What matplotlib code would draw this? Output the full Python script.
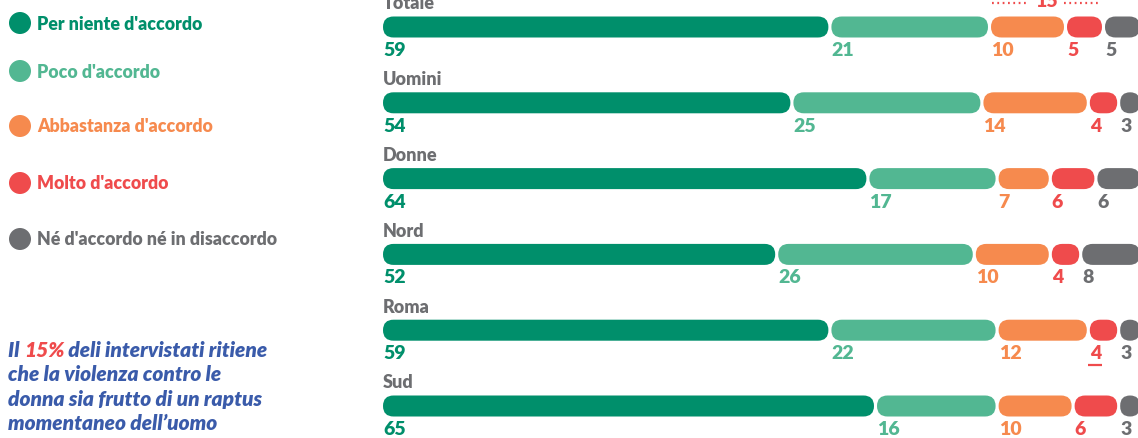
import matplotlib
matplotlib.use('Agg')
import matplotlib.pyplot as plt
from matplotlib.patches import FancyBboxPatch, Circle
import numpy as np

# ---------------- data ----------------
categories = ['Totale', 'Uomini', 'Donne', 'Nord', 'Roma', 'Sud']
series_names = ["Per niente d'accordo", "Poco d'accordo", "Abbastanza d'accordo",
                "Molto d'accordo", "Né d'accordo né in disaccordo"]
per_niente = [59, 54, 64, 52, 59, 65]
poco = [21, 25, 17, 26, 22, 16]
abbastanza = [10, 14, 7, 10, 12, 10]
molto = [5, 4, 6, 4, 4, 6]
ne_ne = [5, 3, 6, 8, 3, 3]
series = [per_niente, poco, abbastanza, molto, ne_ne]
colors = ['#008F6B', '#52B792', '#F68A4E', '#EF4B4C', '#6D6E71']
note_lines = ["Il ", "15%", " deli intervistati ritiene",
              "che la violenza contro le",
              "donna sia frutto di un raptus",
              "momentaneo dell\u2019uomo"]

# ---------------- layout ----------------
W, H = 1138, 439
FONT = 'Lato'
WEIGHT = 800
plt.rcParams['font.family'] = [FONT, 'DejaVu Sans']
fig = plt.figure(figsize=(W / 100, H / 100), dpi=100)

PX_UNIT = 7.6          # pixels per percentage point
ROW_PX = 75.8          # pixels between rows
TOP_PX = 28.0          # centre of first row in pixels
LEFT_PX = 383.0
BAR_PX = 21.0
GAP_PX = 3.0

n = len(categories)
ax = fig.add_axes([LEFT_PX / W, 0, (W - LEFT_PX) / W, 1])
ax.set_xlim(0, (W - LEFT_PX) / PX_UNIT)
ax.set_ylim((H - TOP_PX) / ROW_PX, -TOP_PX / ROW_PX)
ax.axis('off')

px_y = 1.0 / ROW_PX     # rows per pixel
px_x = 1.0 / PX_UNIT    # units per pixel
aspect = px_y / px_x
bar_h = BAR_PX * px_y
gap = GAP_PX * px_x
r_full = (BAR_PX / 2) * px_x

grey_txt = '#6D6E71'
for i, cat in enumerate(categories):
    ax.text(0, i - 18.5 * px_y, cat, ha='left', va='baseline', fontsize=13,
            fontweight=WEIGHT, color=grey_txt)
    left = 0.0
    for s, vals in enumerate(series):
        v = vals[i]
        w = v - gap
        r = min(r_full, w / 2)
        p = FancyBboxPatch((left, i - bar_h / 2), w, bar_h,
                           boxstyle=f"round,pad=0,rounding_size={r}",
                           mutation_aspect=aspect, fc=colors[s], ec='none',
                           clip_on=True)
        ax.add_patch(p)
        ax.text(left, i + 28 * px_y, str(v), ha='left', va='baseline',
                fontsize=14, fontweight=WEIGHT, color=colors[s])
        if cat == 'Roma' and s == 3:
            ax.plot([left - 0.2, left + 1.6], [i + 35 * px_y] * 2,
                    color=colors[s], lw=1.6, solid_capstyle='butt')
        left += v

# "15" annotation over Totale (abbastanza + molto)
tot_hi = abbastanza[0] + molto[0]
x0 = per_niente[0] + poco[0]
x1 = x0 + tot_hi - gap
xm = (x0 + x1) / 2
yl = -24 * px_y
ax.text(xm, -21 * px_y, str(tot_hi), ha='center', va='baseline', fontsize=14,
        fontweight=WEIGHT, color=colors[3])
ax.plot([x0 + 0.1, xm - 2.3], [yl, yl], color=colors[3], lw=1.6,
        linestyle=(0, (0.8, 1.6)))
ax.plot([xm + 2.3, x1 - 0.1], [yl, yl], color=colors[3], lw=1.6,
        linestyle=(0, (0.8, 1.6)))

# ---------------- legend & note in a pixel overlay ----------------
axp = fig.add_axes([0, 0, 1, 1], zorder=-1)
axp.set_xlim(0, W)
axp.set_ylim(H, 0)
axp.axis('off')
leg_y = [24, 72, 127, 184, 240]
for name, c, y in zip(series_names, colors, leg_y):
    axp.add_patch(Circle((20, y), 11, fc=c, ec='none'))
    axp.text(37, y, name, ha='left', va='center', fontsize=12.8,
             fontweight=WEIGHT, color=c)

blue = '#3A5BAA'
fig.canvas.draw()
renderer = fig.canvas.get_renderer()
base = 357
step = 24.4
kw = dict(fontsize=15, fontweight=WEIGHT, style='italic', va='baseline', ha='left')
x = 8
t = axp.text(x, base, note_lines[0], color=blue, **kw)
for piece, col in [(note_lines[1], colors[3]), (note_lines[2], blue)]:
    bb = t.get_window_extent(renderer)
    x = x + bb.width
    t = axp.text(x, base, piece, color=col, **kw)
for k, line in enumerate(note_lines[3:]):
    axp.text(8, base + step * (k + 1), line, color=blue, **kw)

fig.savefig('out.png', dpi=100, facecolor='white')
